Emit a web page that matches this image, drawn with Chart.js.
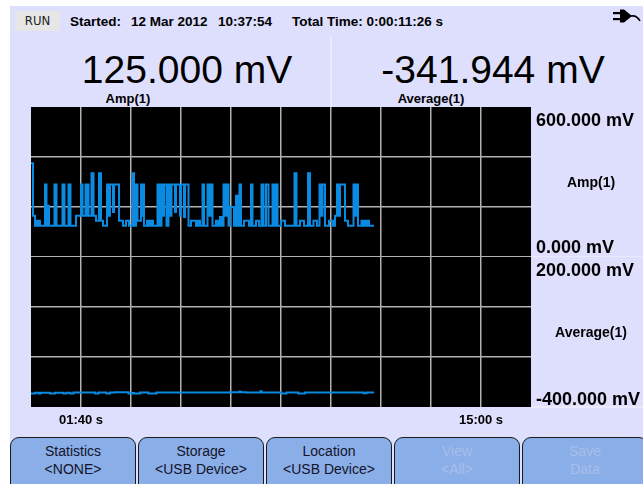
<!DOCTYPE html>
<html>
<head>
<meta charset="utf-8">
<script src="https://cdn.jsdelivr.net/npm/chart.js@4.4.1/dist/chart.umd.min.js"></script>
<style>
  body { margin: 0; width: 643px; height: 484px; overflow: hidden; background: #fff;
         font-family: "Liberation Sans", Arial, sans-serif; color: #000; position: relative; }
  .abs { position: absolute; white-space: nowrap; line-height: 1; }
  #panel { position: absolute; left: 10px; top: 6px; right: 0; bottom: 0; background: #dedefd; }
  #run { position: absolute; left: 15px; top: 11px; width: 45px; height: 20px; background: #e6e6e6;
         font: 13px "Liberation Sans Narrow", "DejaVu Sans Condensed", sans-serif; font-stretch: condensed;
         text-align: center; line-height: 20px; color: #222; }
  .hdr { font-size: 13.5px; font-weight: bold; top: 15px; }
  .big { font-size: 39px; top: 50px; width: 300px; text-align: center; }
  .sub { font-size: 13px; font-weight: bold; top: 92px; width: 160px; text-align: center; }
  #divider { position: absolute; left: 330px; top: 37px; width: 2px; height: 70px; background: #ececfa; }
  .btn { position: absolute; top: 437px; width: 126px; height: 60px; background: #8aaee8;
         border: 1px solid #1a1a1a; border-radius: 9px 9px 0 0; text-align: center;
         font-size: 14px; line-height: 18px; padding-top: 4px; box-sizing: border-box; color: #141428; }
  .btn.off { color: #a9bfe8; }
  canvas { position: absolute; }
</style>
</head>
<body>
<div id="panel"></div>
<div id="run">RUN</div>
<div class="abs hdr" style="left:70px">Started:</div>
<div class="abs hdr" style="left:131px">12 Mar 2012</div>
<div class="abs hdr" style="left:218px">10:37:54</div>
<div class="abs hdr" style="left:292px">Total Time: 0:00:11:26 s</div>
<svg class="abs" style="left:613px;top:8px" width="28" height="20" viewBox="0 0 28 20">
  <rect x="0" y="4" width="8" height="2.2" fill="#000"/>
  <rect x="0" y="10" width="8" height="2.2" fill="#000"/>
  <path d="M7 1.5 L11 1.5 L19 8 L11 14.5 L7 14.5 Z" fill="#000"/>
  <path d="M18 8 Q24 7 27 13" stroke="#000" stroke-width="1.6" fill="none"/>
</svg>
<div id="divider"></div>
<div class="abs big" id="ampText" style="left:37px"></div>
<div class="abs big" id="avgText" style="left:343px"></div>
<div class="abs sub" style="left:48px">Amp(1)</div>
<div class="abs sub" style="left:351px">Average(1)</div>

<canvas id="ampChart" width="612" height="150" style="left:31px;top:107px"></canvas>
<canvas id="avgChart" width="612" height="177" style="left:31px;top:257px"></canvas>

<div class="btn" style="left:10px">Statistics<br>&lt;NONE&gt;</div>
<div class="btn" style="left:138px">Storage<br>&lt;USB Device&gt;</div>
<div class="btn" style="left:266px">Location<br>&lt;USB Device&gt;</div>
<div class="btn off" style="left:394px">View<br>&lt;All&gt;</div>
<div class="btn off" style="left:522px">Save<br>Data</div>

<script>
// readouts (mV)
const ampReading = 125.000;
const avgReading = -341.944;

// time axis: seconds, one division = 100 s
const timeRange = [0, 1000];
const timeTicks = [100, 900];
const timeLabels = ['01:40 s', '15:00 s'];

// vertical ranges (mV)
const ampRange = [0, 600];
const avgRange = [-400, 200];

// Amp(1) trace: value holds from each time until the next one
const ampTimes = [
  0, 4, 8, 11, 13, 16, 18, 28, 31, 34,
  36, 47, 51, 63, 67, 75, 79, 90, 100, 103,
  109, 111, 113, 115, 121, 125, 130, 136, 140, 144,
  152, 156, 158, 164, 166, 176, 184, 190, 196, 203,
  206, 210, 213, 220, 222, 224, 226, 232, 236, 240,
  244, 253, 257, 261, 263, 266, 271, 275, 279, 281,
  288, 290, 298, 300, 306, 308, 315, 320, 330, 334,
  338, 343, 346, 353, 356, 359, 363, 370, 374, 378,
  382, 385, 389, 392, 395, 398, 406, 410, 413, 417,
  420, 426, 436, 440, 443, 450, 456, 461, 465, 470,
  475, 483, 486, 490, 493, 500, 508, 527, 531, 538,
  546, 554, 558, 565, 572, 577, 580, 583, 588, 596,
  604, 608, 612, 616, 618, 628, 634, 645, 648, 650,
  654, 661, 664, 667, 670, 673, 676, 686
];
const ampValues = [
  375, 165, 125, 145, 125, 145, 125, 290, 125, 205,
  125, 290, 125, 290, 125, 290, 125, 165, 290, 165,
  290, 165, 290, 165, 335, 165, 145, 335, 145, 125,
  290, 165, 290, 180, 290, 145, 125, 145, 125, 335,
  125, 290, 145, 290, 165, 290, 125, 145, 125, 145,
  125, 290, 125, 290, 165, 290, 125, 290, 165, 290,
  180, 290, 165, 290, 160, 290, 125, 145, 125, 145,
  125, 290, 125, 290, 165, 290, 125, 145, 125, 160,
  125, 290, 165, 290, 125, 200, 125, 245, 125, 290,
  125, 145, 125, 290, 125, 145, 125, 290, 125, 290,
  125, 290, 125, 290, 125, 145, 125, 335, 125, 145,
  125, 335, 125, 145, 125, 290, 165, 290, 125, 145,
  125, 165, 290, 165, 290, 145, 125, 290, 165, 290,
  125, 145, 125, 145, 125, 145, 125, 125
];

// Average(1) trace
const avgTimes = [
  0, 8, 15, 19, 38, 48, 65, 71, 78, 85,
  128, 135, 151, 158, 168, 195, 203, 206, 218, 235,
  251, 398, 417, 419, 430, 459, 461, 501, 511, 535,
  548, 665, 671, 686
];
const avgValues = [
  -346, -343, -346, -343, -346, -343, -346, -343, -346, -342,
  -346, -342, -346, -342, -341, -346, -344, -346, -342, -346,
  -342, -341, -338, -341, -342, -337, -342, -346, -342, -346,
  -342, -345, -342, -342
];

const fmt = v => v.toFixed(3) + ' mV';
document.getElementById('ampText').textContent = fmt(ampReading);
document.getElementById('avgText').textContent = fmt(avgReading);

Chart.defaults.font.family = '"Liberation Sans", Arial, sans-serif';
Chart.defaults.color = '#000';

const GRID = '#b2b2b2';
const TRACE = '#0a8ae0';

// black plot background
const plotBg = {
  id: 'plotBg',
  beforeDraw(chart) {
    const { ctx, chartArea: a } = chart;
    ctx.save();
    ctx.fillStyle = '#000';
    ctx.fillRect(a.left, a.top, a.right - a.left, a.bottom - a.top);
    ctx.restore();
  }
};

// range and name labels to the right of the plot
const sideLabels = {
  id: 'sideLabels',
  afterDraw(chart, args, opts) {
    const { ctx, chartArea: a } = chart;
    const y = chart.scales.y;
    const x0 = a.right + 5;
    ctx.save();
    ctx.fillStyle = '#000';
    ctx.textAlign = 'left';
    ctx.textBaseline = 'alphabetic';
    ctx.font = 'bold 18px "Liberation Sans", Arial, sans-serif';
    ctx.fillText(fmt(y.max), x0, y.getPixelForValue(y.max) + opts.topDy);
    ctx.fillText(fmt(y.min), x0, y.getPixelForValue(y.min) - opts.bottomDy);
    ctx.font = 'bold 14px "Liberation Sans", Arial, sans-serif';
    ctx.textAlign = 'center';
    ctx.fillText(opts.name, a.right + 60, (a.top + a.bottom) / 2 + opts.nameDy);
    ctx.strokeStyle = '#eeeefc';
    ctx.lineWidth = 1.5;
    ctx.beginPath();
    ctx.moveTo(a.right, a.bottom);
    ctx.lineTo(chart.width, a.bottom);
    ctx.stroke();
    ctx.restore();
  }
};

function makeChart(id, times, values, range, name, hideY, withTime, dy) {
  return new Chart(document.getElementById(id), {
    type: 'line',
    data: {
      datasets: [{
        data: times.map((t, i) => ({ x: t, y: values[i] })),
        borderColor: TRACE,
        borderWidth: 2,
        pointRadius: 0,
        stepped: true,
        fill: false
      }]
    },
    options: {
      responsive: false,
      animation: false,
      layout: { padding: 0 },
      plugins: {
        legend: { display: false },
        tooltip: { enabled: false },
        sideLabels: { name, topDy: dy[0], bottomDy: dy[1], nameDy: dy[2] }
      },
      scales: {
        x: {
          type: 'linear',
          min: timeRange[0],
          max: timeRange[1],
          border: { display: false },
          grid: {
            drawTicks: false,
            lineWidth: 1.5,
            color: c => (c.tick.value === timeRange[0] || c.tick.value === timeRange[1]) ? 'rgba(0,0,0,0)' : GRID
          },
          ticks: {
            display: withTime,
            stepSize: 100,
            autoSkip: false,
            maxRotation: 0,
            padding: 6,
            font: { size: 13, weight: 'bold' },
            callback: v => {
              const i = timeTicks.indexOf(v);
              return i < 0 ? '' : timeLabels[i];
            }
          },
          afterFit: s => {
            s.height = withTime ? 27 : 0;
            s.paddingLeft = 0;
            s.paddingRight = 0;
          }
        },
        y: {
          position: 'right',
          min: range[0],
          max: range[1],
          border: { display: false },
          grid: {
            drawTicks: false,
            lineWidth: 1.5,
            color: c => hideY.includes(c.tick.value) ? 'rgba(0,0,0,0)' : GRID
          },
          ticks: { display: false, stepSize: 200 },
          afterFit: s => { s.width = 112; }
        }
      }
    },
    plugins: [plotBg, sideLabels]
  });
}

makeChart('ampChart', ampTimes, ampValues, ampRange, 'Amp(1)', [ampRange[1]], false, [19, 4, 5]);
makeChart('avgChart', avgTimes, avgValues, avgRange, 'Average(1)', [avgRange[0], avgRange[1]], true, [19, 2, 5]);
</script>
</body>
</html>
